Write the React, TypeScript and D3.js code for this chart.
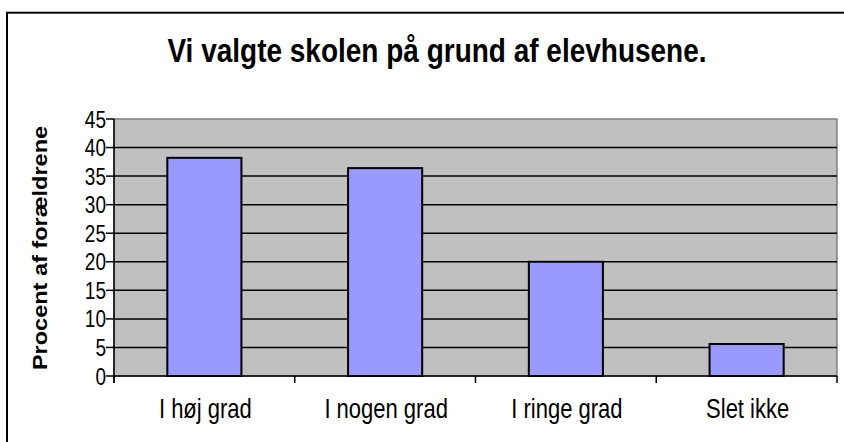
import React from "react";
import * as d3 from "d3";

const categories = ["I høj grad", "I nogen grad", "I ringe grad", "Slet ikke"];
const values = [38.2, 36.4, 20.0, 5.6];
const yTicks = [0, 5, 10, 15, 20, 25, 30, 35, 40, 45];
const title = "Vi valgte skolen på grund af elevhusene.";
const yTitle = "Procent af forældrene";

const W = 844;
const H = 442;
const plot = { left: 114, right: 837, top: 119, bottom: 376 };
const FONT = "'Liberation Sans', Arial, sans-serif";
const STRETCH = 1.25;

export default function App() {
  const x = d3
    .scaleBand<string>()
    .domain(categories)
    .range([plot.left, plot.right])
    .paddingInner(0.59)
    .paddingOuter(0.295);
  const xCat = d3.scaleBand<string>().domain(categories).range([plot.left, plot.right]).padding(0);
  const y = d3.scaleLinear().domain([0, 45]).range([plot.bottom, plot.top]);
  const boundaries = [...categories.map((c) => xCat(c)!), plot.right];

  return (
    <svg
      width={W}
      height={H}
      style={{ position: "absolute", left: 0, top: 0, background: "#fff" }}
    >
      <rect x={7} y={12.7} width={900} height={500} fill="#fff" stroke="#000" strokeWidth={2} />
      <text
        transform={`translate(437, 62) scale(1, 1.2)`}
        textAnchor="middle"
        fontFamily={FONT}
        fontWeight="bold"
        fontSize={28}
        fill="#000"
      >
        {title}
      </text>
      <rect
        x={plot.left}
        y={plot.top}
        width={plot.right - plot.left}
        height={plot.bottom - plot.top}
        fill="#C0C0C0"
        stroke="#808080"
        strokeWidth={1.5}
      />
      {yTicks.slice(1, -1).map((t) => (
        <line key={t} x1={plot.left} x2={plot.right} y1={y(t)} y2={y(t)} stroke="#000" strokeWidth={1.5} />
      ))}
      {categories.map((c, i) => (
        <rect
          key={c}
          x={x(c)}
          y={y(values[i])}
          width={x.bandwidth()}
          height={y(0) - y(values[i])}
          fill="#9999FF"
          stroke="#000"
          strokeWidth={2}
        />
      ))}
      <line x1={plot.left} x2={plot.left} y1={plot.top} y2={plot.bottom + 7} stroke="#000" strokeWidth={1.5} />
      <line x1={plot.left} x2={plot.right} y1={plot.bottom} y2={plot.bottom} stroke="#000" strokeWidth={1.5} />
      {yTicks.map((t) => (
        <g key={t}>
          <line x1={plot.left - 8} x2={plot.left} y1={y(t)} y2={y(t)} stroke="#000" strokeWidth={1.5} />
          <text
            transform={`translate(${plot.left - 8}, ${y(t)}) scale(1, ${STRETCH})`}
            dy="0.36em"
            textAnchor="end"
            fontFamily={FONT}
            fontSize={19}
            fill="#000"
          >
            {t}
          </text>
        </g>
      ))}
      {boundaries.map((b, i) => (
        <line key={i} x1={b} x2={b} y1={plot.bottom} y2={plot.bottom + 7} stroke="#000" strokeWidth={1.5} />
      ))}
      {categories.map((c) => (
        <text
          key={c}
          transform={`translate(${xCat(c)! + xCat.bandwidth() / 2 + 1}, 418) scale(1, ${STRETCH})`}
          textAnchor="middle"
          fontFamily={FONT}
          fontSize={22}
          fill="#000"
        >
          {c}
        </text>
      ))}
      <text
        transform={`translate(47, 248) rotate(-90) scale(1.12, 1)`}
        textAnchor="middle"
        fontFamily={FONT}
        fontWeight="bold"
        fontSize={21}
        fill="#000"
      >
        {yTitle}
      </text>
    </svg>
  );
}
